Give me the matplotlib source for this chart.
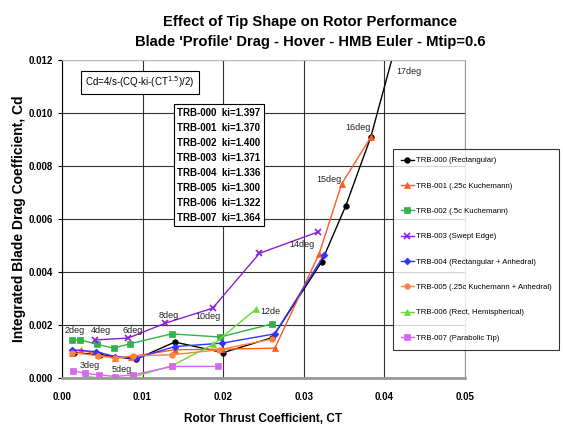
import matplotlib
matplotlib.use('Agg')
import matplotlib.pyplot as plt

plt.rcParams['font.family'] = ['Liberation Sans', 'DejaVu Sans']

# data (CT, Cd) per tip shape
ct_000 = [0.0015, 0.0047, 0.0092, 0.0140, 0.0200, 0.0261, 0.0322, 0.0352, 0.0383, 0.0418]
cd_000 = [0.00095, 0.00087, 0.00070, 0.00135, 0.00095, 0.00152, 0.00437, 0.00649, 0.00908, 0.01300]

ct_001 = [0.0012, 0.0024, 0.0045, 0.0066, 0.0086, 0.0140, 0.0198, 0.0264, 0.0319, 0.0347, 0.0383]
cd_001 = [0.00095, 0.00106, 0.00087, 0.00074, 0.00080, 0.00106, 0.00108, 0.00112, 0.00468, 0.00732, 0.00908]

ct_002 = [0.0013, 0.0023, 0.0043, 0.0064, 0.0085, 0.0136, 0.0196, 0.0260]
cd_002 = [0.00143, 0.00143, 0.00127, 0.00112, 0.00129, 0.00166, 0.00154, 0.00203]

ct_003 = [0.0041, 0.0082, 0.0128, 0.0187, 0.0245, 0.0318]
cd_003 = [0.00143, 0.00150, 0.00206, 0.00263, 0.00470, 0.00551]

ct_004 = [0.0012, 0.0042, 0.0066, 0.0092, 0.0140, 0.0199, 0.0264, 0.0325]
cd_004 = [0.00106, 0.00099, 0.00080, 0.00074, 0.00118, 0.00131, 0.00166, 0.00463]

ct_005 = [0.0013, 0.0045, 0.0066, 0.0088, 0.0137, 0.0195, 0.0260]
cd_005 = [0.00095, 0.00083, 0.00074, 0.00083, 0.00087, 0.00106, 0.00146]

ct_006 = [0.0028, 0.0047, 0.0066, 0.0088, 0.0136, 0.0188, 0.0241]
cd_006 = [0.00005, 0.00000, -0.00004, 0.00003, 0.00045, 0.00127, 0.00260]

ct_007 = [0.0014, 0.0028, 0.0046, 0.0066, 0.0088, 0.0137, 0.0194]
cd_007 = [0.00026, 0.00018, 0.00011, 0.00005, 0.00011, 0.00043, 0.00043]

names = ['TRB-000 (Rectangular)', 'TRB-001 (.25c Kuchemann)', 'TRB-002 (.5c Kuchemann)',
         'TRB-003 (Swept Edge)', 'TRB-004 (Rectangular + Anhedral)',
         'TRB-005 (.25c Kuchemann + Anhedral)', 'TRB-006 (Rect, Hemispherical)',
         'TRB-007 (Parabolic Tip)']
ki_values = ['1.397', '1.370', '1.400', '1.371', '1.336', '1.300', '1.322', '1.364']

# angle labels and where they sit
deg_labels = ['2deg', '4deg', '6deg', '8deg', '10deg', '12de', '14deg', '15deg', '16deg', '17deg', '3deg', '5deg']
deg_x = [0.0016, 0.0049, 0.0088, 0.0132, 0.0181, 0.0258, 0.0298, 0.0331, 0.0367, 0.0431, 0.0034, 0.0074]
deg_y = [0.00180, 0.00179, 0.00179, 0.00234, 0.00232, 0.00250, 0.00502, 0.00747, 0.00946, 0.01156, 0.00045, 0.00033]

series = [(ct_000, cd_000, 'black', 'o', 4),
          (ct_001, cd_001, '#FF5A1F', '^', 5),
          (ct_002, cd_002, '#33B14A', 's', 4),
          (ct_003, cd_003, '#8A1ED2', 'x', 5),
          (ct_004, cd_004, '#3333FF', 'D', 3.5),
          (ct_005, cd_005, '#FF8040', 'o', 4),
          (ct_006, cd_006, '#66DD33', '^', 4.5),
          (ct_007, cd_007, '#D966F2', 's', 4)]

fig = plt.figure(figsize=(5.63, 4.25), dpi=100)
ax = fig.add_axes([0.110, 0.111, 0.716, 0.748])

handles = []
for (x, y, c, m, ms), name in zip(series, names):
    h, = ax.plot(x, y, color=c, marker=m, markersize=ms, linewidth=1.0,
                 markeredgewidth=1.2 if m == 'x' else 0.5, label=name)
    handles.append(h)

for t, x, y in zip(deg_labels, deg_x, deg_y):
    ax.text(x, y, t, fontsize=6.5, ha='center', va='center', color='#222222')

ax.set_xlim(0, 0.05)
ax.set_ylim(0, 0.012)
ax.set_xticks([0, 0.01, 0.02, 0.03, 0.04, 0.05])
ax.set_yticks([0, 0.002, 0.004, 0.006, 0.008, 0.010, 0.012])
ax.xaxis.set_major_formatter(plt.FormatStrFormatter('%.2f'))
ax.yaxis.set_major_formatter(plt.FormatStrFormatter('%.3f'))
ax.tick_params(labelsize=7, length=3, width=0.8)
for lab in ax.get_xticklabels() + ax.get_yticklabels():
    lab.set_fontweight('bold')
ax.tick_params(axis='x', length=0, pad=10)
ax.grid(True, color='#333333', linewidth=0.8)
ax.set_axisbelow(True)
ax.spines['left'].set_color('black')
ax.spines['bottom'].set_color('#999999')
ax.spines['bottom'].set_linewidth(2)
ax.spines['top'].set_color('#BBBBBB')
ax.spines['right'].set_color('#999999')

ax.set_xlabel('Rotor Thrust Coefficient, CT', fontsize=8.5, fontweight='bold', labelpad=8)
ax.set_ylabel('Integrated Blade Drag Coefficient, Cd', fontsize=10, fontweight='bold', labelpad=2)

# two-line title, centred a bit right of the plot like the original
fig.text(0.551, 0.948, 'Effect of Tip Shape on Rotor Performance',
         fontsize=10.6, fontweight='bold', ha='center', va='center')
fig.text(0.551, 0.901, "Blade 'Profile' Drag - Hover - HMB Euler - Mtip=0.6",
         fontsize=10.6, fontweight='bold', ha='center', va='center')

ax.text(0.0029, 0.0110, r'Cd=4/s-(CQ-ki-(CT$^{1.5}$)/2)', fontsize=7,
        bbox=dict(boxstyle='square,pad=0.4', facecolor='white', edgecolor='black', linewidth=0.8))

ki_text = '\n'.join('TRB-%03d  ki=%s' % (i, k) for i, k in enumerate(ki_values))
ax.text(0.0143, 0.0102, ki_text, fontsize=7, fontweight='bold', va='top', linespacing=1.63,
        bbox=dict(boxstyle='square,pad=0.35', facecolor='white', edgecolor='black', linewidth=0.8))

leg = fig.legend(handles=handles, loc='upper left', bbox_to_anchor=(0.698, 0.649),
                 fontsize=5.6, frameon=True, fancybox=False, edgecolor='black',
                 labelspacing=2.3, handlelength=1.7, handletextpad=0.25, borderpad=1.0,
                 borderaxespad=0)
leg.get_frame().set_linewidth(0.8)

fig.savefig('out.png', dpi=100)
